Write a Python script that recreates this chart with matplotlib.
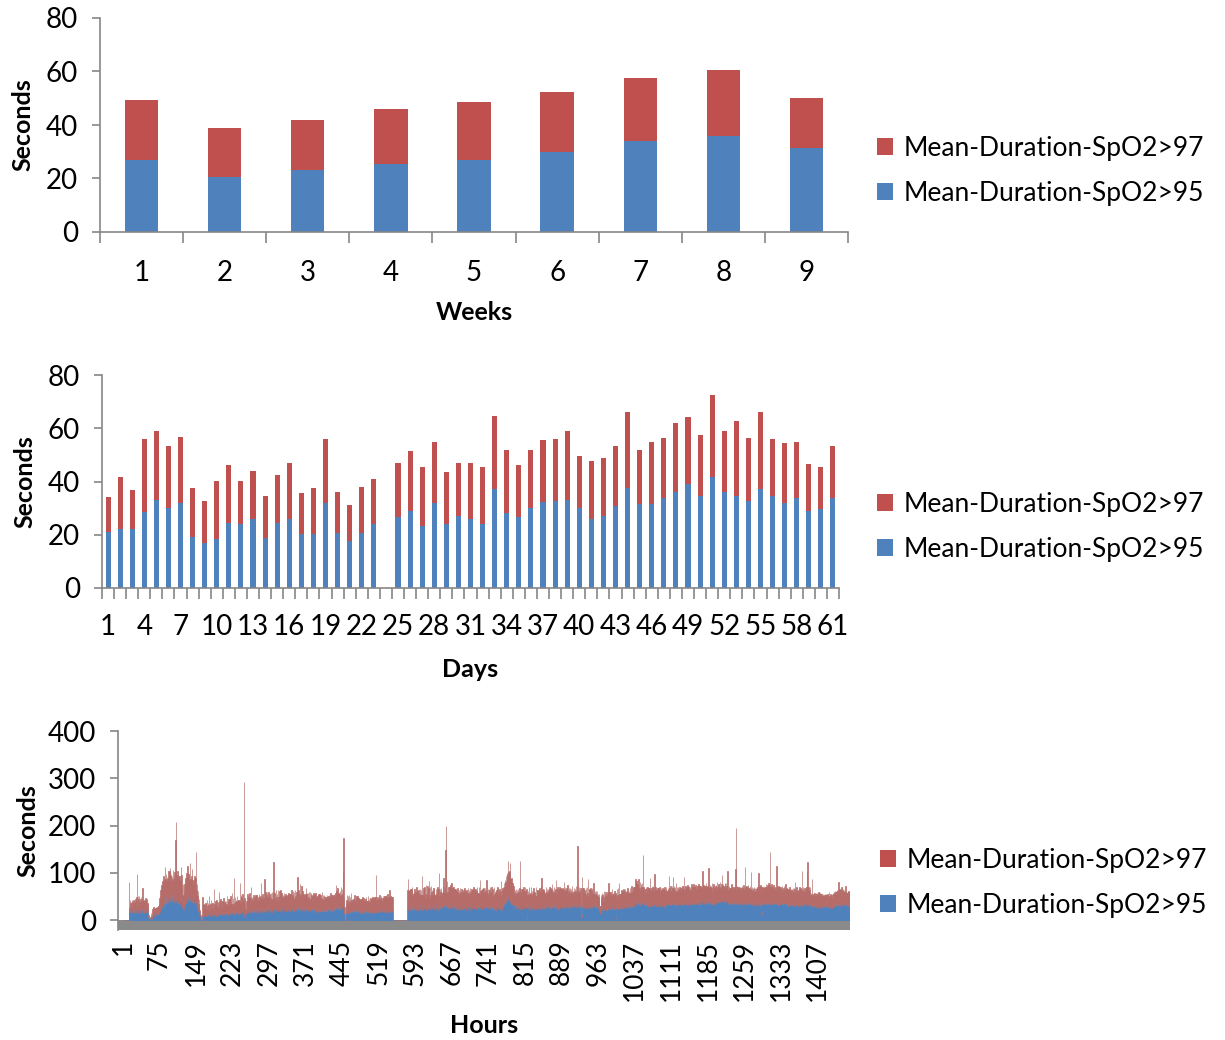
import numpy as np
import matplotlib.pyplot as plt

plt.rcParams['font.family'] = ['Lato', 'DejaVu Sans']

RED = '#c0504d'
BLUE = '#4f81bd'
AXIS = '#868686'
FLOOR = '#8a8a8a'

series_labels = ['Mean-Duration-SpO2>97', 'Mean-Duration-SpO2>95']

# weekly means, seconds
weeks = np.arange(1, 10)
week_95 = [27.0, 20.5, 23.0, 25.5, 27.0, 30.0, 34.0, 36.0, 31.5]
week_97 = [22.5, 18.2, 19.0, 20.5, 21.5, 22.3, 23.5, 24.5, 18.7]

# daily means, seconds (day 24 has no recording)
days = np.arange(1, 62)
day_95 = [21.2, 22.3, 22.3, 28.6, 33.2, 30.2, 32.0, 19.2, 16.9, 18.4,
          24.3, 24.2, 25.8, 18.6, 24.3, 26.0, 20.4, 20.4, 32.0, 20.7,
          17.6, 20.7, 24.2, 0.0, 26.6, 28.8, 23.1, 31.8, 24.2, 27.2,
          26.0, 24.2, 37.0, 28.2, 26.5, 30.0, 32.4, 32.6, 33.2, 30.1,
          26.0, 27.0, 30.8, 37.7, 31.5, 31.7, 33.9, 36.0, 39.2, 34.7,
          41.8, 36.0, 34.7, 32.6, 37.0, 34.7, 31.8, 33.9, 29.1, 29.6,
          33.9]
day_97 = [12.8, 19.3, 14.4, 27.2, 25.7, 23.3, 24.6, 18.2, 15.6, 21.7,
          22.0, 15.9, 18.0, 15.8, 18.1, 21.1, 15.3, 17.0, 23.8, 15.2,
          13.4, 17.4, 16.8, 0.0, 20.2, 22.5, 22.3, 22.9, 19.3, 19.6,
          20.8, 21.2, 27.6, 23.6, 19.8, 22.0, 23.1, 23.2, 25.7, 19.6,
          21.8, 21.9, 22.4, 28.5, 20.5, 23.2, 22.5, 25.8, 25.0, 22.7,
          30.7, 22.9, 27.9, 23.7, 29.0, 21.2, 22.6, 21.0, 17.3, 15.7,
          19.6]

# hourly means, seconds, one row per day
hour_95_rows = [
    [0,0,0,0,0,0,0,0,0,0,0,0,24,17,23,26,15,22,27,18,21,25,16,23],
    [26,18,24,29,25,17,23,28,19,24,15,27,22,18,26,21,22,28,16,24,20,27,18,23],
    [24,17,22,15,6,3,2,0,4,8,5,3,10,16,12,18,9,15,19,11,16,13,20,14],
    [12,20,17,28,24,35,29,38,27,42,33,45,38,30,48,36,50,34,44,52,39,47,55,41],
    [48,38,55,42,50,36,58,44,39,52,45,50,41,56,37,49,43,53,35,47,40,51,38,46],
    [34,28,36,24,38,31,45,37,50,40,52,50,43,55,39,48,58,42,51,38,50,44,36,47],
    [45,38,50,42,48,35,40,28,32,20,24,14,10,6,3,1,2,8,12,9,14,10,15,11],
    [14,9,13,17,10,12,15,8,13,16,11,14,9,17,12,10,15,13,18,11,14,9,12,16],
    [15,11,17,13,19,12,14,18,10,16,13,20,12,17,14,11,18,15,13,19,12,16,10,17],
    [18,13,20,15,17,22,14,19,16,21,13,18,22,15,19,14,20,17,13,21,16,19,15,20],
    [20,15,22,17,19,6,16,21,12,2,15,19,23,16,20,18,22,15,19,18,21,17,23,16],
    [24,17,22,26,18,21,25,19,23,16,26,20,22,18,25,25,19,24,21,27,17,23,20,24],
    [20,26,18,24,22,27,19,25,21,28,17,23,26,20,24,18,27,26,21,25,19,24,28,22],
    [25,19,27,21,24,28,20,26,22,29,18,25,23,27,20,24,28,21,26,19,25,22,27,23],
    [26,20,28,22,25,27,21,29,24,19,27,23,28,21,25,29,22,27,24,30,20,26,27,23],
    [24,25,20,27,22,25,19,26,23,28,21,23,26,20,24,27,22,25,19,27,23,21,26,24],
    [23,18,25,21,26,19,22,27,20,24,17,23,26,21,19,25,22,18,24,27,20,23,19,25],
    [22,18,25,20,24,19,27,21,23,18,26,22,25,20,24,28,19,23,26,21,25,22,27,25],
    [28,22,30,24,27,21,31,26,23,29,25,32,27,30,35,22,12,4,1,14,18,22,17,23],
    [21,16,23,19,22,17,24,20,18,23,16,22,19,24,17,21,24,20,16,23,19,22,17,21],
    [20,15,22,18,21,16,23,19,17,22,15,21,18,23,16,20,17,22,19,15,21,18,23,17],
    [22,17,24,19,21,16,23,20,23,18,24,19,22,17,25,20,18,23,19,24,17,21,20,22],
    [23,18,25,20,17,24,21,19,26,18,22,22,20,24,17,23,19,25,21,0,0,0,0,0],
    [0,0,0,0,0,0,0,0,0,0,0,0,0,0,0,0,0,0,0,0,0,0,0,0],
    [29,28,22,31,25,34,21,28,33,24,30,20,27,35,23,29,26,32,22,30,25,33,21,28],
    [30,24,33,27,22,31,26,35,23,29,32,25,28,34,22,30,27,24,33,28,26,31,23,29],
    [27,31,23,29,25,34,22,30,26,33,24,28,31,22,27,35,24,29,26,32,23,30,25,28],
    [32,31,29,35,27,35,45,30,36,26,33,29,34,25,31,37,28,33,26,30,35,27,32,29],
    [30,24,32,27,35,23,29,31,25,33,22,28,34,26,30,24,32,27,29,25,33,22,28,31],
    [26,33,24,30,28,35,22,29,32,25,31,27,34,29,23,30,26,33,24,31,28,25,32,27],
    [28,24,31,29,26,33,23,30,27,35,25,29,32,24,28,34,29,26,31,23,30,27,33,25],
    [27,22,30,25,29,23,31,26,24,32,21,28,30,25,33,23,27,29,24,31,26,27,22,28],
    [33,28,36,31,38,34,42,37,45,40,50,50,44,48,41,47,38,43,35,40,33,37,31,35],
    [32,26,30,34,24,31,28,35,25,29,33,23,30,27,34,24,31,28,33,25,30,27,28,32],
    [29,25,3,31,24,30,27,33,22,29,26,32,24,30,28,25,33,23,29,27,31,24,30,26],
    [30,25,32,27,34,24,29,29,31,26,33,28,24,31,27,35,25,30,28,32,26,33,29,27],
    [31,26,33,28,30,35,25,32,27,34,29,26,30,33,27,31,24,34,29,32,26,30,28,33],
    [29,33,26,31,28,28,35,25,30,32,27,34,29,26,33,28,31,25,34,29,32,27,30,28],
    [31,27,34,29,32,26,33,30,35,28,32,26,31,34,27,30,6,30,29,33,26,31,28,32],
    [29,33,26,31,28,32,27,34,25,30,32,28,31,26,33,29,32,27,31,25,30,28,33,26],
    [28,23,30,25,22,18,12,16,24,27,21,29,25,22,28,24,31,23,26,21,29,24,27,28],
    [29,24,31,26,22,28,25,33,23,27,30,24,29,27,3,25,30,24,28,26,27,31,23,28],
    [30,26,32,28,34,25,31,29,27,33,26,30,35,27,29,32,25,31,28,34,26,30,33,28],
    [35,30,37,33,39,37,32,40,35,38,33,41,36,31,39,35,42,34,38,36,40,42,33,37],
    [34,29,36,31,33,38,28,35,32,37,30,34,32,36,29,33,37,30,35,31,35,34,29,36],
    [33,37,30,35,32,38,29,34,36,31,33,37,30,35,32,36,28,34,37,31,35,30,33,36],
    [36,36,32,38,34,31,37,33,39,37,35,32,38,34,31,37,33,36,39,32,35,38,33,36],
    [37,33,39,35,32,38,36,34,38,36,40,33,37,35,39,32,36,38,34,40,35,33,37,36],
    [38,34,40,36,42,35,39,37,33,41,36,43,38,35,40,37,42,34,39,41,36,42,38,40],
    [39,35,41,37,38,42,34,40,36,41,37,40,35,42,38,36,41,34,39,37,42,35,40,37],
    [42,38,44,40,45,39,43,41,46,38,44,40,45,42,40,44,39,43,41,46,38,44,40,43],
    [44,34,38,35,39,33,37,36,40,34,38,32,37,35,39,34,39,45,36,40,33,37,35,39],
    [36,33,39,35,38,32,37,35,40,34,38,39,35,37,33,39,36,34,38,32,37,35,39,40],
    [34,31,36,33,37,30,35,33,38,31,36,34,32,36,36,33,37,30,35,32,38,10,34,33],
    [37,33,39,35,40,36,38,34,41,37,35,39,36,40,40,34,38,36,41,35,39,37,34,38],
    [35,37,33,39,36,34,38,32,37,35,39,33,36,38,34,37,32,38,35,36,33,37,34,36],
    [34,30,36,32,35,31,33,37,30,35,32,36,31,34,37,30,34,33,36,31,35,32,34,30],
    [35,31,37,33,36,30,38,34,32,36,33,37,31,35,38,32,37,40,34,36,31,35,33,34],
    [31,28,33,33,30,2,32,27,33,29,31,26,32,28,34,30,27,32,29,33,26,31,28,30],
    [30,27,32,29,31,26,33,28,30,32,27,31,29,33,27,30,28,32,26,31,29,33,27,30],
    [32,29,34,31,35,30,33,36,32,34,30,35,33,31,36,32,34,30,35,31,33,36,34,32],
    [34,30,35,32,29,34,31,33],
]
hour_97_rows = [
    [0,0,0,0,0,0,0,0,0,0,0,0,57,8,19,11,24,6,15,21,9,18,12,16],
    [11,26,14,20,72,12,28,16,31,13,24,9,22,30,14,25,45,10,27,17,21,12,29,15],
    [20,9,15,18,5,2,1,0,3,6,4,2,14,8,16,9,15,11,7,17,10,14,8,16],
    [18,14,30,22,40,24,45,28,55,31,60,35,48,83,39,62,33,58,42,36,65,30,49,69],
    [45,60,28,52,36,70,25,48,62,30,125,158,55,32,66,38,50,27,58,35,44,62,30,49],
    [36,22,40,30,25,45,33,52,38,60,35,65,50,42,58,36,62,45,30,55,59,40,48,28],
    [42,55,30,48,95,28,36,22,30,15,20,8,8,5,2,1,3,40,14,26,10,22,16,25],
    [22,15,30,12,26,20,35,14,24,18,32,11,28,19,25,14,50,21,13,29,17,33,20,12],
    [18,28,42,14,25,33,16,22,30,12,27,19,34,15,24,29,13,26,20,31,17,25,35,14],
    [26,15,30,22,18,35,20,27,14,67,24,31,16,28,21,36,18,25,30,15,27,60,22,33],
    [28,18,33,24,22,287,30,15,12,1,26,20,32,17,28,23,35,19,27,52,24,31,18,29],
    [30,20,26,18,35,24,28,33,17,29,22,36,20,31,25,54,27,19,34,23,30,18,28,62],
    [25,34,20,30,38,22,29,35,19,27,33,24,31,21,36,26,30,96,24,33,28,20,35,27],
    [30,22,36,27,19,33,25,38,21,29,34,24,31,20,37,26,23,35,28,32,22,30,25,34],
    [28,36,22,33,26,36,30,24,38,27,33,22,35,29,25,31,37,65,28,34,23,30,50,26],
    [32,47,26,35,22,30,37,24,33,28,36,44,29,38,23,31,27,35,25,33,22,36,28,30],
    [27,20,33,24,30,22,35,19,28,26,34,21,29,23,36,20,31,27,22,33,25,30,24,28],
    [26,32,20,29,24,35,22,30,27,36,21,28,33,25,30,22,34,27,23,35,29,26,31,49],
    [33,26,38,24,30,37,25,35,28,40,27,33,29,74,138,24,15,3,1,20,25,30,22,28],
    [24,18,30,21,27,19,33,22,26,17,29,23,20,28,25,18,25,31,21,27,19,24,30,22],
    [23,30,17,26,20,32,19,27,22,18,29,24,31,17,25,21,33,19,26,23,18,28,21,27],
    [25,31,19,28,23,33,20,29,72,24,21,30,18,27,22,34,26,19,31,23,28,20,30,25],
    [27,33,21,30,35,23,28,36,20,31,26,41,29,22,34,25,30,21,28,0,0,0,0,0],
    [0,0,0,0,0,0,0,0,0,0,0,0,0,0,0,0,0,0,0,0,0,0,0,0],
    [35,59,40,22,38,18,44,26,33,45,20,37,28,16,42,30,34,24,47,21,36,27,43,19],
    [25,42,20,36,30,62,28,19,45,24,38,31,17,40,33,22,46,27,35,55,21,39,29,44],
    [33,20,41,26,38,33,45,22,30,18,42,27,36,48,24,31,76,20,39,27,44,23,35,29],
    [40,59,35,22,44,113,155,28,47,33,20,41,30,45,25,38,32,46,24,37,28,43,21,36],
    [28,41,22,35,19,44,30,26,38,21,46,32,25,40,27,35,23,36,18,42,29,37,24,33],
    [38,22,43,27,35,20,46,30,25,40,28,36,19,40,44,24,37,29,42,23,33,45,26,31],
    [30,45,24,56,36,22,41,28,38,19,43,31,26,44,33,21,55,37,27,42,24,39,30,46],
    [33,25,40,22,37,29,18,43,31,24,39,27,34,20,36,45,25,32,41,23,35,56,28,38],
    [35,42,28,47,33,50,38,56,36,60,45,76,58,40,62,74,48,35,55,32,46,30,41,27],
    [24,38,29,20,42,27,35,22,40,31,18,45,95,33,26,41,23,37,28,44,21,35,41,30],
    [30,40,4,23,37,26,42,20,35,28,44,22,38,25,31,43,21,36,29,24,40,27,33,38],
    [25,38,22,41,28,35,44,59,27,39,23,36,42,26,33,21,45,30,37,24,40,28,34,43],
    [30,42,25,37,46,23,39,28,44,26,35,40,55,22,38,29,45,24,36,31,43,27,40,25],
    [36,24,42,30,38,53,27,44,33,22,40,29,46,35,25,39,31,43,21,37,28,45,26,34],
    [28,41,25,37,30,46,24,39,122,35,27,43,30,24,40,33,5,62,38,26,42,30,36,25],
    [26,35,22,38,30,54,24,31,40,21,36,27,33,42,23,30,46,28,24,37,26,33,20,35],
    [22,33,19,30,24,12,9,14,28,20,36,23,31,18,34,25,20,37,24,32,21,35,26,50],
    [24,36,20,33,29,25,40,22,35,27,21,38,26,31,4,29,35,23,39,27,51,24,33,28],
    [28,37,23,34,26,40,24,32,38,22,35,29,25,41,30,23,36,27,39,24,33,42,26,31],
    [32,40,27,36,30,49,35,42,28,38,33,45,29,37,41,26,35,39,31,43,28,96,36,30],
    [26,37,30,40,24,33,42,27,35,22,38,54,31,25,39,28,34,43,26,36,62,30,41,27],
    [31,24,38,27,35,22,40,29,26,36,30,23,37,28,33,25,41,30,27,38,24,34,29,32],
    [27,57,35,26,38,30,24,40,29,55,33,41,25,36,30,42,27,34,23,39,31,26,37,30],
    [30,38,25,34,41,27,36,31,54,28,33,39,26,35,30,42,27,33,38,24,36,31,28,40],
    [27,36,31,40,26,34,29,38,35,24,37,30,33,41,28,36,25,39,32,27,35,62,30,34],
    [30,38,26,35,41,28,36,32,24,70,33,29,39,27,34,31,37,26,35,40,28,33,25,36],
    [32,27,36,30,24,38,33,28,35,30,26,37,50,31,36,29,34,25,38,31,27,35,33,29],
    [60,30,25,37,28,34,31,26,36,29,33,38,27,35,30,32,70,149,28,33,37,26,34,30],
    [32,38,26,35,29,40,30,27,35,33,25,74,36,28,39,30,34,41,27,36,30,38,26,62],
    [30,38,25,34,28,40,27,35,24,37,29,33,39,26,63,31,36,28,40,25,33,8,35,29],
    [31,39,28,36,30,41,27,35,32,38,26,40,29,34,103,37,30,40,27,35,31,38,28,33],
    [33,27,38,76,30,35,26,40,29,34,24,37,31,28,39,25,35,30,38,27,33,40,26,32],
    [28,36,24,33,27,38,30,25,36,29,33,23,37,28,31,35,47,26,32,38,24,30,27,34],
    [30,38,25,34,28,36,66,27,39,26,33,30,36,24,31,37,65,82,28,33,40,26,31,35],
    [22,30,19,53,25,1,21,31,24,27,20,32,23,29,18,26,33,22,28,20,30,24,27,21],
    [21,28,18,25,23,30,19,27,22,17,29,24,20,27,23,19,28,21,26,24,18,25,29,22],
    [27,33,22,30,25,34,28,24,49,29,36,23,31,26,33,21,30,35,24,32,27,22,38,28],
    [24,30,22,28,33,25,29,23],
]
hour_95 = np.concatenate(hour_95_rows)
hour_97 = np.concatenate(hour_97_rows)
if len(hour_95) != len(hour_97):
    raise ValueError('hourly series differ in length')
hours = np.arange(1, len(hour_95) + 1)
hour_ticks = np.arange(1, len(hours) + 1, 74)

fig = plt.figure(figsize=(12.25, 10.4), dpi=100)
ax1 = fig.add_axes([100 / 1225, 1 - 232 / 1040, 748 / 1225, 214 / 1040])
ax2 = fig.add_axes([102 / 1225, 1 - 588 / 1040, 737 / 1225, 213 / 1040])
ax3 = fig.add_axes([118 / 1225, 1 - 930 / 1040, 732 / 1225, 199 / 1040])


def style_axes(ax):
    for side in ('top', 'right'):
        ax.spines[side].set_visible(False)
    for side in ('left', 'bottom'):
        ax.spines[side].set_color(AXIS)
        ax.spines[side].set_linewidth(1.2)
    ax.tick_params(axis='y', which='major', direction='out', length=6,
                   width=1.2, color=AXIS, labelsize=20, pad=10)
    ax.tick_params(axis='x', which='major', length=0, labelsize=20)
    ax.tick_params(axis='x', which='minor', direction='out', length=8,
                   width=1.2, color=AXIS)


# weeks
b95 = ax1.bar(weeks, week_95, width=0.4, color=BLUE, linewidth=0)
b97 = ax1.bar(weeks, week_97, width=0.4, bottom=week_95, color=RED, linewidth=0)
ax1.set_xlim(0.5, 9.5)
ax1.set_ylim(0, 80)
ax1.set_yticks(np.arange(0, 81, 20))
ax1.set_xticks(weeks)
ax1.set_xticks(np.arange(0.5, 9.6, 1), minor=True)
style_axes(ax1)
ax1.tick_params(axis='x', which='major', pad=20)
ax1.set_xlabel('Weeks', fontsize=18, fontweight='bold', labelpad=11)
ax1.set_ylabel('Seconds', fontsize=18, fontweight='bold', labelpad=8)

# days
d95 = ax2.bar(days, day_95, width=0.42, color=BLUE, linewidth=0)
d97 = ax2.bar(days, day_97, width=0.42, bottom=day_95, color=RED, linewidth=0)
ax2.set_xlim(0.5, 61.5)
ax2.set_ylim(0, 80)
ax2.set_yticks(np.arange(0, 81, 20))
ax2.set_xticks(np.arange(1, 62, 3))
ax2.set_xticks(np.arange(0.5, 61.6, 1), minor=True)
style_axes(ax2)
ax2.tick_params(axis='x', which='major', pad=19)
ax2.set_xlabel('Days', fontsize=18, fontweight='bold', labelpad=13)
ax2.set_ylabel('Seconds', fontsize=18, fontweight='bold', labelpad=8)

# hours: bars are narrower than a pixel, so an outline keeps them solid
h95 = ax3.bar(hours, hour_95, width=1.0, color=BLUE,
              edgecolor=BLUE, linewidth=0.5)
h97 = ax3.bar(hours, hour_97, width=1.0, bottom=hour_95, color=RED,
              edgecolor='#b4726f', linewidth=0.5)
ax3.axhspan(-21, 0, color=FLOOR, linewidth=0, zorder=0.5)
ax3.set_xlim(-9, len(hours) + 0.5)
ax3.set_ylim(-21, 400)
ax3.set_yticks(np.arange(0, 401, 100))
ax3.set_xticks(hour_ticks)
ax3.set_xticklabels([str(h) for h in hour_ticks], rotation=90)
style_axes(ax3)
ax3.spines['bottom'].set_visible(False)
ax3.tick_params(axis='x', which='major', labelsize=19, pad=7)
ax3.set_xlabel('Hours', fontsize=18, fontweight='bold', labelpad=9)
ax3.set_ylabel('Seconds', fontsize=18, fontweight='bold', labelpad=6)

for ax, handles, ymid, xleft in ((ax1, (b97, b95), 1 - 171 / 1040, 877 / 1225),
                                 (ax2, (d97, d95), 1 - 527 / 1040, 877 / 1225),
                                 (ax3, (h97, h95), 1 - 883 / 1040, 880 / 1225)):
    leg = ax.legend(handles, series_labels, loc='center left',
                    bbox_to_anchor=(xleft, ymid), bbox_transform=fig.transFigure,
                    frameon=False, fontsize=19, handlelength=0.6,
                    handleheight=0.6, handletextpad=0.4, labelspacing=0.75,
                    borderpad=0, borderaxespad=0)
    for patch in leg.get_patches():
        patch.set_linewidth(0)

fig.savefig('out.png', dpi=100)
